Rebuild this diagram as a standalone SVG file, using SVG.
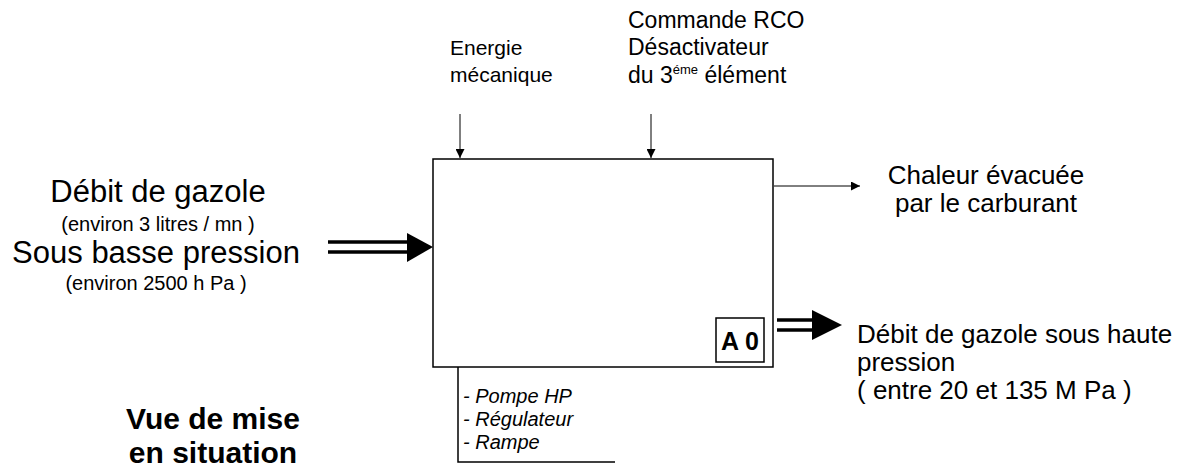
<svg xmlns="http://www.w3.org/2000/svg" width="1183" height="473" viewBox="0 0 1183 473">
<style>
text{font-family:"Liberation Sans",Arial,sans-serif;fill:#000}
.ln{stroke:#000;stroke-width:1.5;fill:none}
.thin{stroke:#000;stroke-width:1;fill:none}
.thick{stroke:#000;stroke-width:3.5;fill:none}
.it{font-style:italic;font-size:20px}
</style>
<defs>
<marker id="ah" viewBox="0 0 10 10" refX="10" refY="5" markerWidth="9" markerHeight="9" markerUnits="userSpaceOnUse" orient="auto"><path d="M0,0 L10,5 L0,10 z" fill="#000"/></marker>
</defs>
<rect width="1183" height="473" fill="#fff"/>
<g id="A0">
<rect x="433" y="159" width="340" height="208" class="ln"/>
<rect x="716" y="318" width="48" height="44" class="ln"/>
<text x="740" y="350" font-size="25" font-weight="bold" text-anchor="middle">A 0</text>
</g>
<g id="connectors">
<line x1="460" y1="114" x2="460" y2="158" class="thin" marker-end="url(#ah)"/>
<line x1="651" y1="114" x2="651" y2="158" class="thin" marker-end="url(#ah)"/>
<line x1="774" y1="186" x2="860" y2="186" class="thin" stroke-width="0.8" marker-end="url(#ah)"/>
<line x1="328" y1="242" x2="410" y2="242" class="thick"/>
<line x1="328" y1="252" x2="410" y2="252" class="thick"/>
<path d="M407,233 L433,247 L407,262 z" fill="#000"/>
<line x1="777" y1="320" x2="815" y2="320" class="thick"/>
<line x1="777" y1="330" x2="815" y2="330" class="thick"/>
<path d="M812,310 L842,325 L812,340 z" fill="#000"/>
<polyline points="458,367 458,462 615,462" class="ln"/>
</g>
<g id="labels">
<text x="450" y="55" font-size="21">Energie</text>
<text x="450" y="82" font-size="21">mécanique</text>
<text x="628" y="28" font-size="23">Commande RCO</text>
<text x="628" y="55" font-size="23">Désactivateur</text>
<text x="628" y="83" font-size="23">du 3<tspan font-size="13" dy="-9">éme</tspan><tspan dy="9"> élément</tspan></text>
<text x="986" y="184" font-size="26" text-anchor="middle">Chaleur évacuée</text>
<text x="986" y="212" font-size="26" text-anchor="middle">par le carburant</text>
<text x="158" y="202" font-size="31" text-anchor="middle">Débit de gazole</text>
<text x="158" y="231" font-size="20" text-anchor="middle">(environ 3 litres / mn  )</text>
<text x="156" y="263" font-size="31" text-anchor="middle">Sous basse pression</text>
<text x="156" y="290" font-size="20" text-anchor="middle">(environ 2500 h Pa )</text>
<text x="857" y="343" font-size="26">Débit de gazole sous haute</text>
<text x="857" y="371" font-size="26">pression</text>
<text x="857" y="399" font-size="26">( entre 20 et 135 M Pa )</text>
<text x="463" y="403" class="it">- Pompe HP</text>
<text x="463" y="426" class="it">- Régulateur</text>
<text x="463" y="449" class="it">- Rampe</text>
<text x="213" y="429" font-size="30" font-weight="bold" text-anchor="middle">Vue de mise</text>
<text x="213" y="463" font-size="30" font-weight="bold" text-anchor="middle">en situation</text>
</g>
</svg>
